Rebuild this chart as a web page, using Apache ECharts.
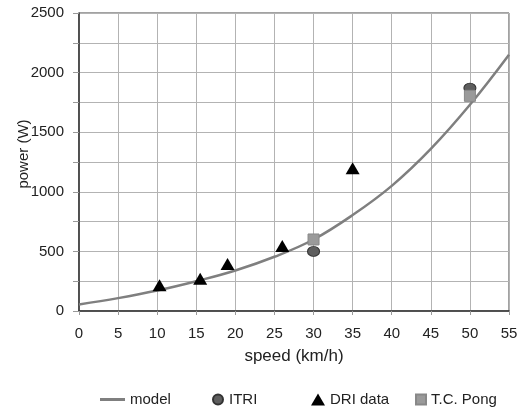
<!DOCTYPE html>
<html>
<head>
<meta charset="utf-8">
<script src="https://cdn.jsdelivr.net/npm/echarts@6/dist/echarts.min.js"></script>
<style>
  html, body { margin: 0; padding: 0; background: #fff; }
  #chart { width: 524px; height: 410px; }
</style>
</head>
<body>
<div id="chart"></div>
<script>
// model curve, every 5 km/h
const modelSpeed = [0, 5, 10, 15, 20, 25, 30, 35, 40, 45, 50, 55]
const modelPower = [55, 108, 172, 250, 340, 455, 600, 805, 1050, 1360, 1730, 2150]

const itriData = [[30, 500], [50, 1870]]
const driData = [[10.3, 215], [15.5, 270], [19, 395], [26, 545], [35, 1198]]
const pongData = [[30, 600], [50, 1805]]

const font = 'Liberation Sans, Arial, sans-serif'

const modelData = modelSpeed.map((s, i) => [s, modelPower[i]])

const chart = echarts.init(document.getElementById('chart'), null, { renderer: 'canvas' })

const legendBase = (item, left, w, h) => ({
  left: left,
  top: 387,
  itemWidth: w,
  itemHeight: h,
  data: [item],
  textStyle: { fontFamily: font, fontSize: 15, color: '#222' },
  selectedMode: false,
})

const options = {
  animation: false,
  backgroundColor: '#fff',
  grid: {
    left: 79,
    right: 15,
    top: 13,
    bottom: 99,
    outerBoundsMode: 'none',
    containLabel: false,
    show: true,
    borderColor: '#444',
    borderWidth: 1,
  },
  legend: [
    legendBase({ name: 'model', icon: 'rect', itemStyle: { color: '#7f7f7f' } }, 95, 25, 3),
    legendBase('ITRI', 207, 12, 10),
    legendBase('DRI data', 306, 14, 12),
    legendBase('T.C. Pong', 410, 10, 10),
  ],
  xAxis: {
    type: 'value',
    min: 0,
    max: 55,
    interval: 5,
    name: 'speed (km/h)',
    nameLocation: 'middle',
    nameGap: 37,
    nameTextStyle: { fontFamily: font, fontSize: 17, color: '#222' },
    axisLine: { show: true, lineStyle: { color: '#333', width: 1.5 } },
    axisTick: { show: true, length: 4, lineStyle: { color: '#999' } },
    axisLabel: { fontFamily: font, fontSize: 15, color: '#222', margin: 15 },
    splitLine: { show: true, lineStyle: { color: '#b3b3b3', width: 1 } },
  },
  yAxis: {
    type: 'value',
    min: 0,
    max: 2500,
    interval: 250,
    name: 'power (W)',
    nameLocation: 'middle',
    nameGap: 48,
    nameMoveOverlap: false,
    nameTextStyle: { fontFamily: font, fontSize: 15, color: '#222', padding: [0, 0, 0, 16] },
    axisLine: { show: true, lineStyle: { color: '#333', width: 1.5 } },
    axisTick: { show: true, length: 6, lineStyle: { color: '#999' } },
    axisLabel: {
      fontFamily: font, fontSize: 15, color: '#222', margin: 15,
      formatter: (v) => (v % 500 === 0 ? String(v) : ''),
    },
    splitLine: { show: true, lineStyle: { color: '#b3b3b3', width: 1 } },
  },
  series: [
    {
      name: 'model',
      type: 'line',
      data: modelData,
      smooth: 0.4,
      symbol: 'none',
      lineStyle: { color: '#7f7f7f', width: 2.5 },
      itemStyle: { color: '#7f7f7f' },
      z: 3,
    },
    {
      name: 'ITRI',
      type: 'scatter',
      data: itriData,
      symbol: 'circle',
      symbolSize: [12, 10],
      itemStyle: { color: '#5e5e5e', borderColor: '#333', borderWidth: 1, opacity: 1 },
      z: 4,
    },
    {
      name: 'DRI data',
      type: 'scatter',
      data: driData,
      symbol: 'triangle',
      symbolSize: [14, 12],
      itemStyle: { color: '#000', opacity: 1 },
      z: 5,
    },
    {
      name: 'T.C. Pong',
      type: 'scatter',
      data: pongData,
      symbol: 'rect',
      symbolSize: 11,
      itemStyle: { color: '#9a9a9a', borderColor: '#888', borderWidth: 1, opacity: 1 },
      z: 5,
    },
  ],
}

chart.setOption(options)
</script>
</body>
</html>
